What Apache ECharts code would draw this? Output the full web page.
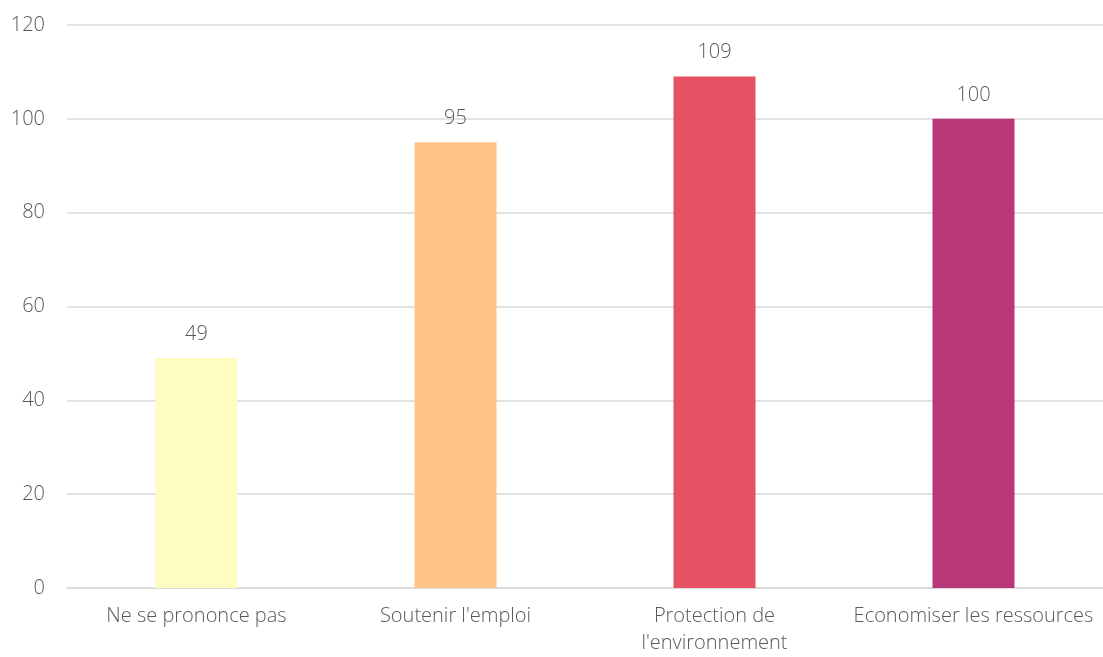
<!DOCTYPE html>
<html><head><meta charset="utf-8">
<script src="https://cdn.jsdelivr.net/npm/echarts@6/dist/echarts.min.js"></script>
<style>html,body{margin:0;padding:0;background:#fff;overflow:hidden}#c{width:1103px;height:657px}</style>
</head><body><div id="c"></div>
<script>
const categories = ["Ne se prononce pas", "Soutenir l'emploi", "Protection de l'environnement", "Economiser les ressources"];
const values = [49, 95, 109, 100];
const colors = ["#FEFCBF", "#FEC488", "#E65164", "#B73779"];
const yTicks = [0, 20, 40, 60, 80, 100, 120];

const chart = echarts.init(document.getElementById('c'), null, {renderer: 'canvas', width: 1103, height: 657});
const font = '"Open Sans"';
chart.setOption({
  animation: false,
  grid: {left: 67, top: 25, width: 1040, height: 567, containLabel: false},
  xAxis: {
    type: 'category', data: categories,
    axisLine: {show: true, lineStyle: {color: '#D9D9D9', width: 1.5}},
    axisTick: {show: false},
    axisLabel: {interval: 0, color: '#595959', fontFamily: font, fontWeight: 300, fontSize: 20, margin: 15, lineHeight: 27,
      formatter: v => v.replace("de l'", "de\nl'")}
  },
  yAxis: {
    type: 'value', min: yTicks[0], max: yTicks[yTicks.length - 1], interval: 20,
    axisLine: {show: false}, axisTick: {show: false},
    splitLine: {lineStyle: {color: '#D9D9D9', width: 1.5}},
    axisLabel: {color: '#595959', fontFamily: font, fontWeight: 300, fontSize: 20, margin: 22}
  },
  series: [{
    type: 'bar', barWidth: 82,
    data: values.map((v, i) => ({value: v, itemStyle: {color: colors[i]}})),
    label: {show: true, position: 'top', distance: 14, color: '#595959', fontFamily: font, fontWeight: 300, fontSize: 20}
  }]
});
</script></body></html>
